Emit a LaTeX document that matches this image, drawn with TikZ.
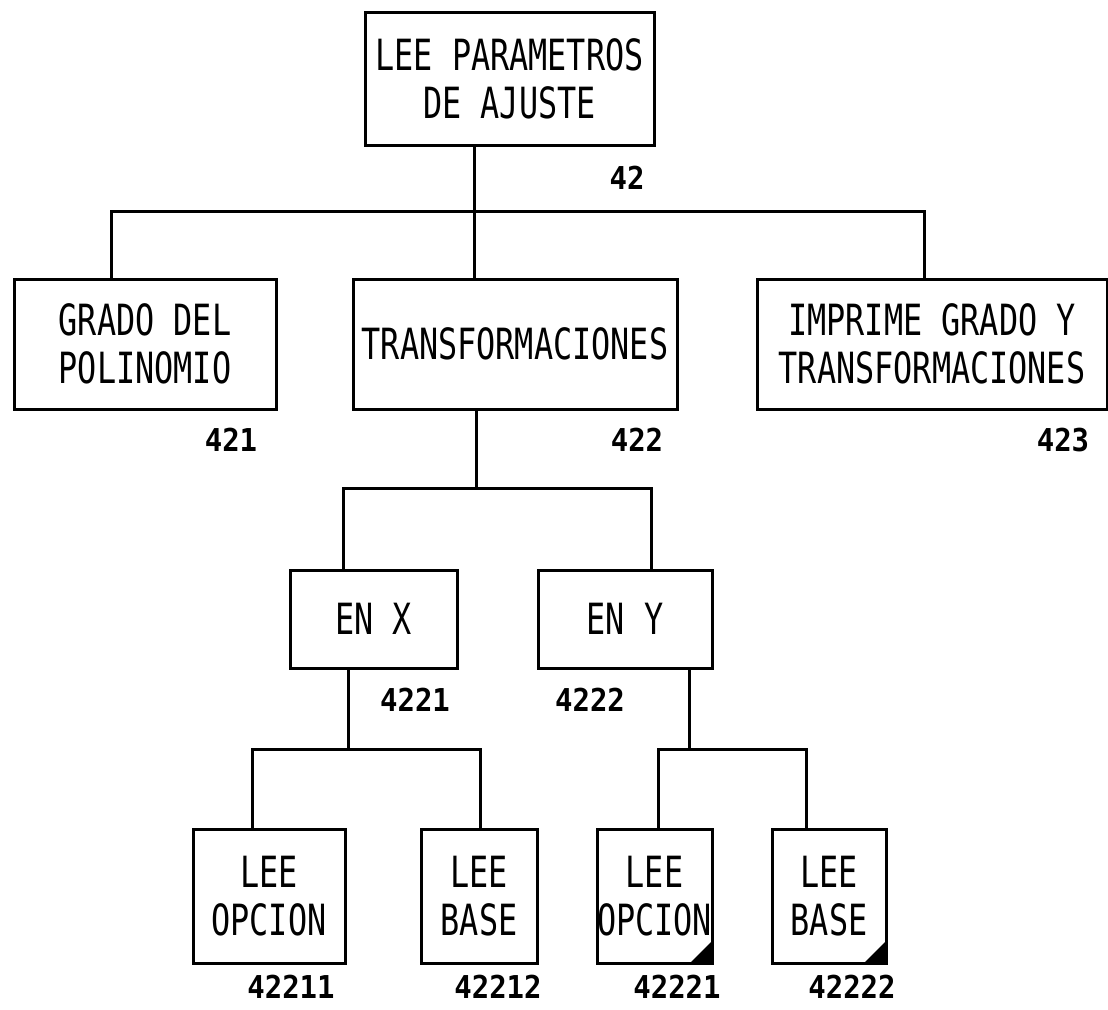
\documentclass[tikz,border=0pt]{standalone}
\usepackage{fontspec}
\usepackage{tikz}
\usetikzlibrary{calc,positioning}
\newfontfamily\plotfont[FakeStretch=0.74]{DejaVu Sans Mono}
\newfontfamily\plotnum[FakeStretch=0.92]{DejaVu Sans Mono}

\begin{document}
\begin{tikzpicture}[
  x=1pt, y=-1pt,
  modbox/.style={draw=black, line width=3pt, align=center, inner sep=0pt,
    font=\plotfont\fontsize{43}{48}\selectfont},
  modnum/.style={inner sep=0pt, font=\plotnum\bfseries\fontsize{31.5}{36}\selectfont},
  link/.style={line width=3pt, line cap=rect},
]
\useasboundingbox (0,0) rectangle (1108,1009);

% === Level 1 ===
\node[modbox, minimum width=289, minimum height=133] (m42) at (509.5,78.5)
  {LEE PARAMETROS\\DE AJUSTE};
\node[modnum] (n42) at (627,178) {42};

% === Level 2 ===
\node[modbox, minimum width=262, minimum height=130] (m421) at (145,344)
  {GRADO DEL\\POLINOMIO};
\node[modbox, minimum width=324, minimum height=130] (m422) at (515,344)
  {TRANSFORMACIONES};
\node[modbox, minimum width=350, minimum height=130] (m423) at (932,344)
  {IMPRIME GRADO Y\\TRANSFORMACIONES};
\node[modnum] (n421) at (231,440) {421};
\node[modnum] (n422) at (637,440) {422};
\node[modnum] (n423) at (1063,440) {423};

% === Level 3 ===
\node[modbox, minimum width=167, minimum height=98] (m4221) at (373.5,619) {EN X};
\node[modbox, minimum width=174, minimum height=98] (m4222) at (625,619) {EN Y};
\node[modnum] (n4221) at (415,700) {4221};
\node[modnum] (n4222) at (590,700) {4222};

% === Level 4 ===
\node[modbox, minimum width=152, minimum height=134] (m42211) at (269,896) {LEE\\OPCION};
\node[modbox, minimum width=116, minimum height=134] (m42212) at (479,896) {LEE\\BASE};
\node[modbox, minimum width=115, minimum height=134] (m42221) at (654.5,896) {LEE\\OPCION};
\node[modbox, minimum width=114, minimum height=134] (m42222) at (829,896) {LEE\\BASE};
\foreach \n/\x in {42211/291, 42212/498, 42221/677, 42222/852} {
  \node[modnum] (n\n) at (\x,987) {\n};
}
\foreach \m in {m42221, m42222} {
  \fill (\m.south east) -- ++(-25,0) -- ++(25,-25) -- cycle;
}

% === Connectors ===
\coordinate (j42) at (474,211);
\coordinate (j421) at (111,211);
\coordinate (j423) at (924,211);
\draw[link] (m42.south -| j42) -- (m422.north -| j42);
\draw[link] (m421.north -| j421) -- (j421) -- (j423) -- (m423.north -| j423);

\coordinate (j422) at (476,488);
\coordinate (j4221) at (343,488);
\coordinate (j4222) at (651,488);
\draw[link] (m422.south -| j422) -- (j422);
\draw[link] (m4221.north -| j4221) -- (j4221) -- (j4222) -- (m4222.north -| j4222);

\coordinate (k4221) at (348,749);
\coordinate (k42211) at (252,749);
\coordinate (k42212) at (480,749);
\draw[link] (m4221.south -| k4221) -- (k4221);
\draw[link] (m42211.north -| k42211) -- (k42211) -- (k42212) -- (m42212.north -| k42212);

\coordinate (k4222) at (689,749);
\coordinate (k42221) at (658,749);
\coordinate (k42222) at (806,749);
\draw[link] (m4222.south -| k4222) -- (k4222);
\draw[link] (m42221.north -| k42221) -- (k42221) -- (k42222) -- (m42222.north -| k42222);

\end{tikzpicture}
\end{document}
